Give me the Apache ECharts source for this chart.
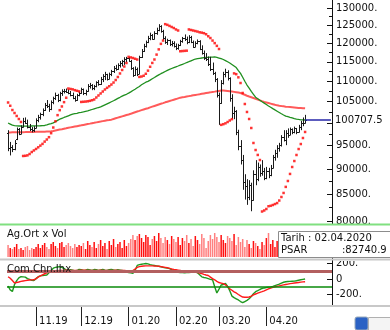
<!DOCTYPE html>
<html>
<head>
<meta charset="utf-8">
<script src="https://cdn.jsdelivr.net/npm/echarts@6/dist/echarts.min.js"></script>
<style>
  html, body { margin: 0; padding: 0; background: #fff; }
  #chart { width: 390px; height: 330px; }
</style>
</head>
<body>
<div id="chart"></div>
<script>
// Trading sessions, grouped by month: [month, year, days]
const tradingDays = [
  ['10', '2019', [14, 15, 16, 17, 18, 21, 22, 23, 24, 25, 28, 30, 31]],
  ['11', '2019', [1, 4, 5, 6, 7, 8, 11, 12, 13, 14, 15, 18, 19, 20, 21, 22, 25, 26, 27, 28, 29]],
  ['12', '2019', [2, 3, 4, 5, 6, 9, 10, 11, 12, 13, 16, 17, 18, 19, 20, 23, 24, 25, 26, 27, 30, 31]],
  ['01', '2020', [2, 3, 6, 7, 8, 9, 10, 13, 14, 15, 16, 17, 20, 21, 22, 23, 24, 27, 28, 29, 30, 31]],
  ['02', '2020', [3, 4, 5, 6, 7, 10, 11, 12, 13, 14, 17, 18, 19, 20, 21, 24, 25, 26, 27, 28]],
  ['03', '2020', [2, 3, 4, 5, 6, 9, 10, 11, 12, 13, 16, 17, 18, 19, 20, 23, 24, 25, 26, 27, 30, 31]],
  ['04', '2020', [1, 2, 3, 6, 7, 8, 9, 10, 13, 14, 15, 16, 17, 20, 21, 22, 24, 27, 28]]
];

const open = [
  97800, 94500, 94800, 94200, 96500, 98700, 97600, 99200, 100500, 100100, 99200, 98600, 98400,
  99000, 100800, 101500, 102000, 103000, 104300, 104000, 103200, 104900, 105900, 106700, 105300, 107000, 107600, 107700, 107400, 107000, 106700, 106000, 105400, 106500,
  107200, 108000, 107000, 107600, 108900, 109100, 108300, 108800, 109700, 109400, 110700, 111400, 111800, 110700, 111900, 112500, 113500, 113100, 114200, 114700, 115100, 115700,
  115900, 115300, 113400, 111700, 113100, 111900, 116200, 117900, 119300, 120200, 121400, 122300, 121200, 122800, 123700, 124800, 123300, 121500, 120300, 120800, 119700, 120100,
  119300, 118600, 119400, 120500, 121300, 121000, 120200, 121800, 120400, 119000, 120100, 120600, 118500, 117400, 116100, 115800, 114500, 113000, 112200, 110600,
  106600, 104700, 109600, 111800, 112300, 110900, 105900, 102300, 102900, 98000, 95000, 92000, 87500, 86600, 84500, 86900, 84000, 89000, 88000, 90500, 89300, 89600,
  88300, 89700, 88800, 90300, 92600, 93500, 94400, 95200, 96900, 96300, 97800, 97300, 98600, 97900, 98800, 98000, 99200, 100100, 100000
];
const high = [
  98400, 95800, 95100, 96200, 99000, 98900, 99500, 101200, 101300, 100800, 99800, 99100, 99300,
  101100, 101900, 102400, 103400, 104700, 105400, 104500, 105300, 106200, 107200, 106900, 107400, 108000, 108100, 108200, 108000, 107600, 107200, 106400, 106900, 107400,
  108400, 108200, 107900, 109300, 109600, 109300, 109100, 110000, 110300, 111100, 111800, 112400, 111900, 112200, 112900, 113900, 114200, 114600, 115200, 115500, 116200, 116300,
  116200, 115500, 113600, 113800, 113500, 116600, 118400, 119800, 120700, 122000, 122900, 122500, 123300, 124300, 125300, 125000, 123700, 121900, 121200, 121000, 120600, 120500,
  119900, 119800, 120900, 121700, 122400, 121800, 122200, 122000, 120700, 120500, 121000, 120800, 119400, 118000, 117300, 116400, 116300, 114800, 112400, 110800,
  107200, 110300, 112400, 113200, 112800, 111000, 106800, 103800, 103000, 98500, 96200, 93000, 89000, 88000, 87800, 87300, 89800, 91900, 91400, 91000, 91900, 90300,
  90500, 90300, 90900, 93000, 94100, 95100, 95600, 97300, 98400, 98400, 98800, 99000, 98800, 99200, 98900, 99600, 100500, 101300, 101900
];
const low = [
  93800, 92900, 93600, 94000, 96200, 97300, 97500, 99000, 99800, 98800, 98200, 97900, 98000,
  98800, 100200, 100800, 101600, 102800, 103500, 102600, 103000, 104400, 105400, 104900, 105100, 106400, 107000, 107100, 106800, 106300, 105600, 105000, 105200, 106300,
  106900, 106600, 106500, 107400, 108200, 107800, 107800, 108500, 108900, 109100, 109800, 110300, 110200, 110500, 111300, 112100, 112700, 112900, 113500, 113800, 114200, 114900,
  115000, 112900, 111100, 111400, 111300, 111800, 116000, 117600, 118800, 120000, 120800, 120900, 121000, 122300, 123300, 122900, 120900, 119800, 119500, 119200, 119100, 118800,
  118100, 118200, 119200, 120100, 120600, 119700, 120000, 120000, 118700, 118900, 119700, 118100, 116900, 115500, 115200, 113900, 112600, 111600, 109800, 106000,
  99600, 104500, 109200, 111000, 110200, 105000, 101000, 100900, 97300, 94000, 91000, 85900, 84000, 83000, 83900, 81800, 83800, 86800, 87600, 88500, 88700, 87800,
  88000, 88200, 88600, 90200, 91800, 92400, 93700, 94800, 95900, 95100, 96700, 97300, 97500, 97700, 97500, 97900, 98400, 99300, 99900
];
const close = [
  94500, 94800, 94200, 95600, 98700, 97600, 99200, 100500, 100100, 99200, 98600, 98400, 99000,
  100800, 101500, 102000, 103000, 104300, 104000, 103200, 104900, 105900, 106700, 105300, 107000, 107600, 107700, 107400, 107000, 106700, 106000, 105400, 106500, 107200,
  108000, 107000, 107600, 108900, 109100, 108300, 108800, 109700, 109400, 110700, 111400, 111800, 110700, 111900, 112500, 113500, 113100, 114200, 114700, 115100, 115700, 115900,
  115300, 113400, 111700, 113100, 111900, 116200, 117900, 119300, 120200, 121400, 122300, 121200, 122800, 123700, 124800, 123300, 121500, 120300, 120800, 119700, 120100, 119300,
  118600, 119400, 120500, 121300, 121000, 120200, 121800, 120400, 119000, 120100, 120600, 118500, 117400, 116100, 115800, 114500, 113000, 112200, 110600, 106600,
  104700, 109600, 111800, 112300, 110900, 105900, 102300, 102900, 98000, 95000, 92000, 87500, 86600, 84500, 86900, 84000, 89000, 88000, 90500, 89300, 89600, 88300,
  89700, 88800, 90300, 92600, 93500, 94400, 95200, 96900, 96300, 97800, 97300, 98600, 97900, 98800, 98000, 99200, 100100, 100000, 100707.5
];

// Short moving average (green) and long moving average (red)
const maShort = [
  100030, 99780, 99530, 99440, 99390, 99340,
  99350, 99330, 99320, 99320, 99330, 99340, 99350, 99360, 99380, 99400, 99430,
  99460, 99590, 99750, 99890, 100050, 100320, 100620, 100890, 101100, 101290, 101470, 101680, 101870, 102060, 102170, 102260, 102400, 102500, 102610,
  102730, 102840, 102980, 103150, 103310, 103450, 103620, 103780, 104020, 104260, 104500, 104740, 104980, 105220, 105510, 105800, 106060, 106330, 106600, 106790,
  107070, 107380, 107700, 108020, 108380, 108700, 109120, 109450, 109770, 109990, 110290, 110650, 110960, 111290, 111610, 111920, 112200, 112490, 112770, 113030, 113260, 113490,
  113700, 113900, 114110, 114320, 114550, 114810, 115020, 115260, 115490, 115730, 115840, 115920, 116000, 116080, 116140, 116190, 116220, 116240, 116270, 116140, 115980,
  115820, 115600, 115310, 115000, 114680, 114290, 113900, 113490, 112690, 112000, 111010, 110020, 109070, 108310, 107500, 106790, 106080, 105720, 105340, 104980, 104660, 104330,
  103990, 103690, 103360, 103050, 102750, 102450, 102150, 101870, 101610, 101470, 101330, 101200, 101030, 100920, 100830, 100760, 100730, 100710
];
const maLong = [
  97890, 97900, 97910, 97920, 97930, 97940, 97950, 97960, 97970, 97990, 98000,
  98010, 98020, 98030, 98040, 98050, 98060, 98070, 98090, 98100,
  98140, 98230, 98330, 98430, 98530, 98620, 98720, 98820, 98930, 99030, 99130, 99220, 99310, 99400, 99490, 99590, 99690, 99790, 99880, 99980, 100070, 100170, 100260, 100350, 100450, 100540, 100630,
  100690, 100790, 100950, 101100, 101250, 101400, 101550, 101700, 101850, 101990, 102140, 102340, 102510, 102670, 102830, 103000, 103160, 103320, 103460, 103640, 103820, 103990, 104160, 104330, 104500, 104670, 104850, 105000, 105150, 105310, 105470, 105630, 105800, 105970,
  106060, 106150, 106250, 106340, 106430, 106530, 106620, 106710, 106800, 106900, 106990, 107080, 107170, 107260, 107360, 107440, 107530, 107610, 107690, 107700, 107660, 107610, 107540, 107460, 107380, 107290, 107200, 107100,
  106870, 106670, 106440, 106250, 106070, 105890, 105700, 105520, 105330, 105140, 104960, 104820, 104680, 104540, 104400, 104260, 104130, 104040, 103960, 103890, 103820, 103770, 103720, 103670, 103620, 103570, 103520, 103480, 103440, 103420
];

// Parabolic SAR
const psar = [
  104810, 104030, 103030, 102330, 101640, 100940, 100260,
  92780, 92820, 92910, 93200, 93620, 93960, 94280, 94630, 95000, 95370, 95870, 96330, 96840, 97730, 99000, 100410, 101830, 102990, 103870, 104890, 105950,
  108200, 108100, 108000, 107800, 107650, 107500,
  104940, 104980, 105030, 105100, 105200, 105350, 105530, 106010, 106500, 106990, 107470, 107960, 108380, 108770, 109190, 109690, 110320, 111080, 111980, 112870, 113770, 114680,
  116300, 116150, 116000, 115800, 115600,
  111100, 111200, 111400, 111900, 112700, 113700, 114700, 115600, 116900, 118300, 119800, 120700,
  125300, 125100, 124800, 124500, 124200, 123800, 123500,
  117800, 117850, 117900, 117950,
  123800, 123650, 123500, 123350, 123200, 123000, 122900, 122750, 122450, 121900, 121400, 120700, 120000, 119250, 118400,
  99600, 99750, 99950, 100250, 100600, 100900,
  112000, 111800, 111000, 109570, 107110, 104450, 102570, 100940, 98890, 95570, 94050, 93000, 91930,
  81750, 81940, 82220, 82740.9, 82820, 82970, 83150, 83340, 83820, 84500, 85280, 86470, 87640, 89060, 90480, 91720, 92990, 94260, 95340, 96660, 98000
];

// Volume
const volume = [
  600, 450, 400, 500, 650, 400, 450, 350, 500, 550, 350, 450, 400,
  500, 650, 450, 600, 700, 500, 400, 650, 750, 550, 450, 700, 750, 500, 600, 700, 550, 450, 650, 500, 600,
  550, 700, 400, 800, 600, 500, 750, 450, 650, 850, 550, 700, 400, 800, 600, 900, 500, 650, 750, 450, 850, 550,
  700, 900, 1100, 850, 1050, 1150, 950, 750, 1100, 1000, 600, 900, 1050, 800, 1200, 950, 700, 1000, 850, 650, 1050, 900,
  750, 1000, 600, 950, 800, 1100, 700, 900, 550, 1050, 850, 650, 1150, 950, 450, 800, 1100, 900, 1200, 1000,
  750, 1100, 850, 700, 1050, 950, 800, 1150, 600, 1000, 750, 900, 500, 850, 650, 450, 800, 700, 550, 400, 750, 600,
  950, 1200, 650, 850, 500, 800, 600, 1000, 700, 900, 550, 750, 650, 450, 800, 600, 700, 500, 650
];

// Commodity Channel Index and its signal line
const cci = [
  -90, -140, -160, -70, -20, 15, 30, 28, 25, 5, -5, -18, -20, 5, 30, 40, 45, 48, 52, 80, 110, 140, 150, 155, 160, 150, 135, 118, 112,
  120, 115, 105, 110, 125, 120, 110, 115, 125, 118, 110, 122, 120, 112, 118, 125, 115, 110, 120, 125, 118, 112, 120, 115, 110, 100, 90,
  85, 80, 75, 110, 175, 185, 190, 195, 200, 195, 185, 180, 175, 170, 165, 158, 150, 145, 140, 135, 120, 105, 92, 88, 85, 82, 80, 82, 85, 88, 92, 95,
  80, 55, 28, 20, 15, 5, -5, -10, -100, -180, -130, -77, -70, -55, -95, -150, -220, -240, -255, -270, -290, -305, -290, -275, -255, -225, -190, -163, -150, -135,
  -122, -115, -110, -105, -102, -95, -85, -75, -65, -52, -42, -35, -32, -30, -28, -27, -22, -15, -10, -5, 0
];
const cciSignal = [
  30, 10, -20, -50, -45, -38, -30, -25, -20, -16, -13, -11, -10, 5, 25, 40, 55, 68, 80, 90, 98, 102, 106, 108,
  110, 111, 112, 113, 112, 111, 110, 110, 111, 112, 113, 114, 113, 112, 111, 110, 110, 111, 112, 113, 112, 111, 110, 110, 111, 112, 113, 112, 111, 110, 110, 109, 108, 108, 110,
  130, 150, 160, 165, 168, 170, 170, 170, 170, 168, 166, 164, 160, 155, 150, 145, 138, 130, 124, 120, 115, 110, 105, 100, 96, 93, 91, 90, 90,
  85, 78, 70, 60, 52, 45, 25, 5, -10, -30, -45, -52, -60, -75, -100, -125, -145, -165, -180, -200, -218, -232, -235, -235, -232, -220, -205, -193, -182, -172,
  -163, -152, -140, -128, -117, -108, -100, -94, -88, -82, -76, -70, -65, -60, -56, -52, -48, -44, -40, -37, -35
];

// Axis settings
const priceLabels = [130000, 125000, 120000, 115000, 110000, 105000, 95000, 90000, 85000, 80000];
const priceMajorTicks = [130000, 125000, 120000, 115000, 110000, 105000, 100000, 95000, 90000, 85000, 80000];
const priceMinorTicks = [127500, 122500, 117500, 112500, 107500, 102500, 97500, 92500, 87500, 82500];
const priceRange = [79455, 132394];
const cciTicks = [200, 0, -200];
const cciLevels = [100, -100];
const cciRange = [-335, 297];
const volumeMax = 1500;
const futureSlots = 12;
const markedDate = '02.04.2020';

// ---- build ----
const lg = v => Math.log10(v);
const dates = tradingDays.flatMap(([m, y, days]) =>
  days.map(d => String(d).padStart(2, '0') + '.' + m + '.' + y));
const N = dates.length;
const categories = dates.concat(Array.from({ length: futureSlots }, (_, k) => '+' + (k + 1)));
const lastClose = close[N - 1];
const markedIdx = dates.indexOf(markedDate);

function isMonthStart(idx) {
  if (idx <= 0 || idx >= N) return false;
  return dates[idx].slice(3) !== dates[idx - 1].slice(3);
}

const FONT = 'DejaVu Sans';
const ohlcData = dates.map((d, i) => [i, lg(open[i]), lg(high[i]), lg(low[i]), lg(close[i])]);

function renderOhlc(params, api) {
  const i = api.value(0);
  const pO = api.coord([i, api.value(1)]);
  const pH = api.coord([i, api.value(2)]);
  const pL = api.coord([i, api.value(3)]);
  const pC = api.coord([i, api.value(4)]);
  const x = Math.round(pO[0]) + 0.5;
  const yo = Math.round(pO[1]) + 0.5;
  const yc = Math.round(pC[1]) + 0.5;
  const st = { stroke: '#1a1a1a', lineWidth: 1 };
  return {
    type: 'group',
    children: [
      { type: 'line', shape: { x1: x, y1: pH[1], x2: x, y2: pL[1] }, style: st },
      { type: 'line', shape: { x1: x - 1.5, y1: yo, x2: x, y2: yo }, style: st },
      { type: 'line', shape: { x1: x, y1: yc, x2: x + 1.5, y2: yc }, style: st }
    ]
  };
}

const chart = echarts.init(document.getElementById('chart'), null, { renderer: 'canvas' });

const hiddenX = (gi) => ({
  type: 'category', gridIndex: gi, data: categories, boundaryGap: true,
  axisLine: { show: false, onZero: false }, axisTick: { show: false }, axisLabel: { show: false }, splitLine: { show: false }
});

const option = {
  animation: false,
  backgroundColor: '#fff',
  textStyle: { fontFamily: FONT },
  grid: [
    { left: 7, right: 58, top: 0, height: 224 },
    { left: 7, right: 58, top: 227, height: 30 },
    { left: 7, right: 58, top: 256, height: 49 }
  ],
  xAxis: [
    hiddenX(0),
    hiddenX(1),
    {
      type: 'category', gridIndex: 2, data: categories, boundaryGap: true, position: 'bottom',
      axisLine: { show: false, onZero: false },
      axisTick: {
        show: true, alignWithLabel: true, length: 21,
        interval: (idx) => isMonthStart(idx),
        lineStyle: { color: '#222', width: 1 }
      },
      axisLabel: {
        show: true, interval: (idx) => isMonthStart(idx),
        formatter: (v) => v.slice(3, 5) + '.' + v.slice(8, 10),
        align: 'left', padding: [0, 0, 0, 3], margin: 11,
        fontSize: 10, fontFamily: FONT, color: '#111'
      },
      splitLine: { show: false }
    }
  ],
  yAxis: [
    {
      type: 'value', gridIndex: 0, position: 'right',
      min: lg(priceRange[0]), max: lg(priceRange[1]),
      axisLine: { show: true, lineStyle: { color: '#111', width: 1 } },
      axisTick: { show: true, inside: true, length: 5, customValues: priceMajorTicks.map(lg), lineStyle: { color: '#111' } },
      axisLabel: {
        show: true, customValues: priceLabels.map(lg), margin: 4, hideOverlap: false,
        formatter: (v) => Math.round(Math.pow(10, v)) + '.',
        fontSize: 10, fontFamily: FONT, color: '#111'
      },
      splitLine: { show: false }
    },
    {
      type: 'value', gridIndex: 0, position: 'right',
      min: lg(priceRange[0]), max: lg(priceRange[1]),
      axisLine: { show: false },
      axisTick: { show: true, inside: true, length: 3, customValues: priceMinorTicks.map(lg), lineStyle: { color: '#111' } },
      axisLabel: { show: false },
      splitLine: { show: false }
    },
    {
      type: 'value', gridIndex: 1, position: 'right', min: 0, max: volumeMax,
      axisLine: { show: false }, axisTick: { show: false }, axisLabel: { show: false }, splitLine: { show: false }
    },
    {
      type: 'value', gridIndex: 2, position: 'right', min: cciRange[0], max: cciRange[1],
      axisLine: { show: true, lineStyle: { color: '#111', width: 1 } },
      axisTick: { show: true, inside: true, length: 5, customValues: cciTicks, lineStyle: { color: '#111' } },
      axisLabel: {
        show: true, customValues: cciTicks, margin: 4, showMaxLabel: true, showMinLabel: true, hideOverlap: false,
        formatter: (v) => (v === 0 ? '0' : v + '.'),
        fontSize: 10, fontFamily: FONT, color: '#111'
      },
      splitLine: { show: false }
    }
  ],
  series: [
    {
      name: 'Ort. Uzun', type: 'line', xAxisIndex: 0, yAxisIndex: 0,
      data: maLong.map(lg), showSymbol: false, symbol: 'none', z: 2,
      lineStyle: { color: '#ff5a5a', width: 2 }
    },
    {
      name: 'Ort. Kısa', type: 'line', xAxisIndex: 0, yAxisIndex: 0,
      data: maShort.map(lg), showSymbol: false, symbol: 'none', z: 2,
      lineStyle: { color: '#1f8f1f', width: 1.3 }
    },
    {
      name: 'Fiyat', type: 'custom', xAxisIndex: 0, yAxisIndex: 0,
      renderItem: renderOhlc, data: ohlcData, encode: { x: 0, y: [1, 2, 3, 4] }, z: 3
    },
    {
      name: 'PSAR', type: 'scatter', xAxisIndex: 0, yAxisIndex: 0,
      data: psar.map((v, i) => [i, lg(v)]), symbol: 'rect', symbolSize: 2.5, z: 4,
      itemStyle: { color: '#ff0000' }
    },
    {
      name: 'Son', type: 'line', xAxisIndex: 0, yAxisIndex: 0,
      data: [[N - 1, lg(lastClose)]], showSymbol: false, symbol: 'none', z: 5,
      lineStyle: { opacity: 0 },
      markLine: {
        silent: true, symbol: 'none', animation: false,
        lineStyle: { color: '#2626a8', width: 1.5, type: 'solid' },
        label: {
          show: true, position: 'end', distance: 4,
          formatter: () => String(lastClose),
          fontSize: 10, fontFamily: FONT, color: '#111'
        },
        data: [[{ coord: [N - 1, lg(lastClose)] }, { coord: [categories.length - 1, lg(lastClose)] }]]
      }
    },
    {
      name: 'Vol', type: 'bar', xAxisIndex: 1, yAxisIndex: 2, barWidth: '70%',
      data: volume.map((v, i) => ({
        value: v,
        itemStyle: { color: close[i] >= open[i] ? '#ff1010' : '#ff8080' }
      }))
    },
    {
      name: 'Seviye', type: 'line', xAxisIndex: 2, yAxisIndex: 3, data: [], z: 1,
      markLine: {
        silent: true, symbol: 'none', animation: false, label: { show: false },
        data: [
          { yAxis: cciLevels[0], lineStyle: { color: '#b35f5f', width: 3, type: 'solid' } },
          { yAxis: cciLevels[1], lineStyle: { color: '#0a8a0a', width: 1.5, type: 'solid' } }
        ]
      }
    },
    {
      name: 'CCI', type: 'line', xAxisIndex: 2, yAxisIndex: 3,
      data: cci, showSymbol: false, symbol: 'none', z: 3,
      lineStyle: { color: '#1f991f', width: 1.4 }
    },
    {
      name: 'Sinyal', type: 'line', xAxisIndex: 2, yAxisIndex: 3,
      data: cciSignal, showSymbol: false, symbol: 'none', z: 4,
      lineStyle: { color: '#ff1a1a', width: 1.4 }
    }
  ],
  graphic: [
    // masks so the edge labels are cut by the panel borders
    { type: 'rect', z: 90, shape: { x: 333, y: 224, width: 57, height: 7 }, style: { fill: '#fff' } },
    { type: 'rect', z: 90, shape: { x: 333, y: 257, width: 57, height: 4 }, style: { fill: '#fff' } },
    { type: 'line', z: 95, shape: { x1: 0, y1: 224.5, x2: 390, y2: 224.5 }, style: { stroke: '#80e080', lineWidth: 2 } },
    { type: 'line', z: 95, shape: { x1: 0, y1: 259.5, x2: 390, y2: 259.5 }, style: { stroke: '#c8c8c8', lineWidth: 2 } },
    { type: 'line', z: 95, shape: { x1: 0, y1: 306, x2: 390, y2: 306 }, style: { stroke: '#c8c8c8', lineWidth: 2 } },
    { type: 'text', z: 96, x: 7, y: 229, style: { text: 'Ag.Ort x Vol', font: '10px "DejaVu Sans"', fill: '#111' } },
    { type: 'text', z: 96, x: 7, y: 264, style: { text: 'Com.Chn.Ihx', font: '10px "DejaVu Sans"', fill: '#111' } },
    // data box for the marked session
    {
      type: 'group', z: 100,
      children: [
        { type: 'rect', z: 100, shape: { x: 278.5, y: 231.5, width: 120, height: 26 }, style: { fill: '#fff', stroke: '#8c8c8c', lineWidth: 1 } },
        { type: 'text', z: 101, x: 281, y: 233, style: { text: 'Tarih : ' + markedDate, font: '10px "DejaVu Sans"', fill: '#111' } },
        { type: 'text', z: 101, x: 281, y: 245, style: { text: 'PSAR', font: '10px "DejaVu Sans"', fill: '#111' } },
        { type: 'text', z: 101, x: 342, y: 245, style: { text: ':' + psar[markedIdx], font: '10px "DejaVu Sans"', fill: '#111' } }
      ]
    },
    // corner badge
    { type: 'rect', z: 100, shape: { x: 355, y: 317, width: 13, height: 13, r: 2 }, style: { fill: '#2b62c4', stroke: '#9ab', lineWidth: 1 } },
    { type: 'rect', z: 100, shape: { x: 368.5, y: 317.5, width: 22, height: 14 }, style: { fill: '#f4f4f4', stroke: '#b0b0b0', lineWidth: 1 } }
  ]
};

chart.setOption(option);
</script>
</body>
</html>
